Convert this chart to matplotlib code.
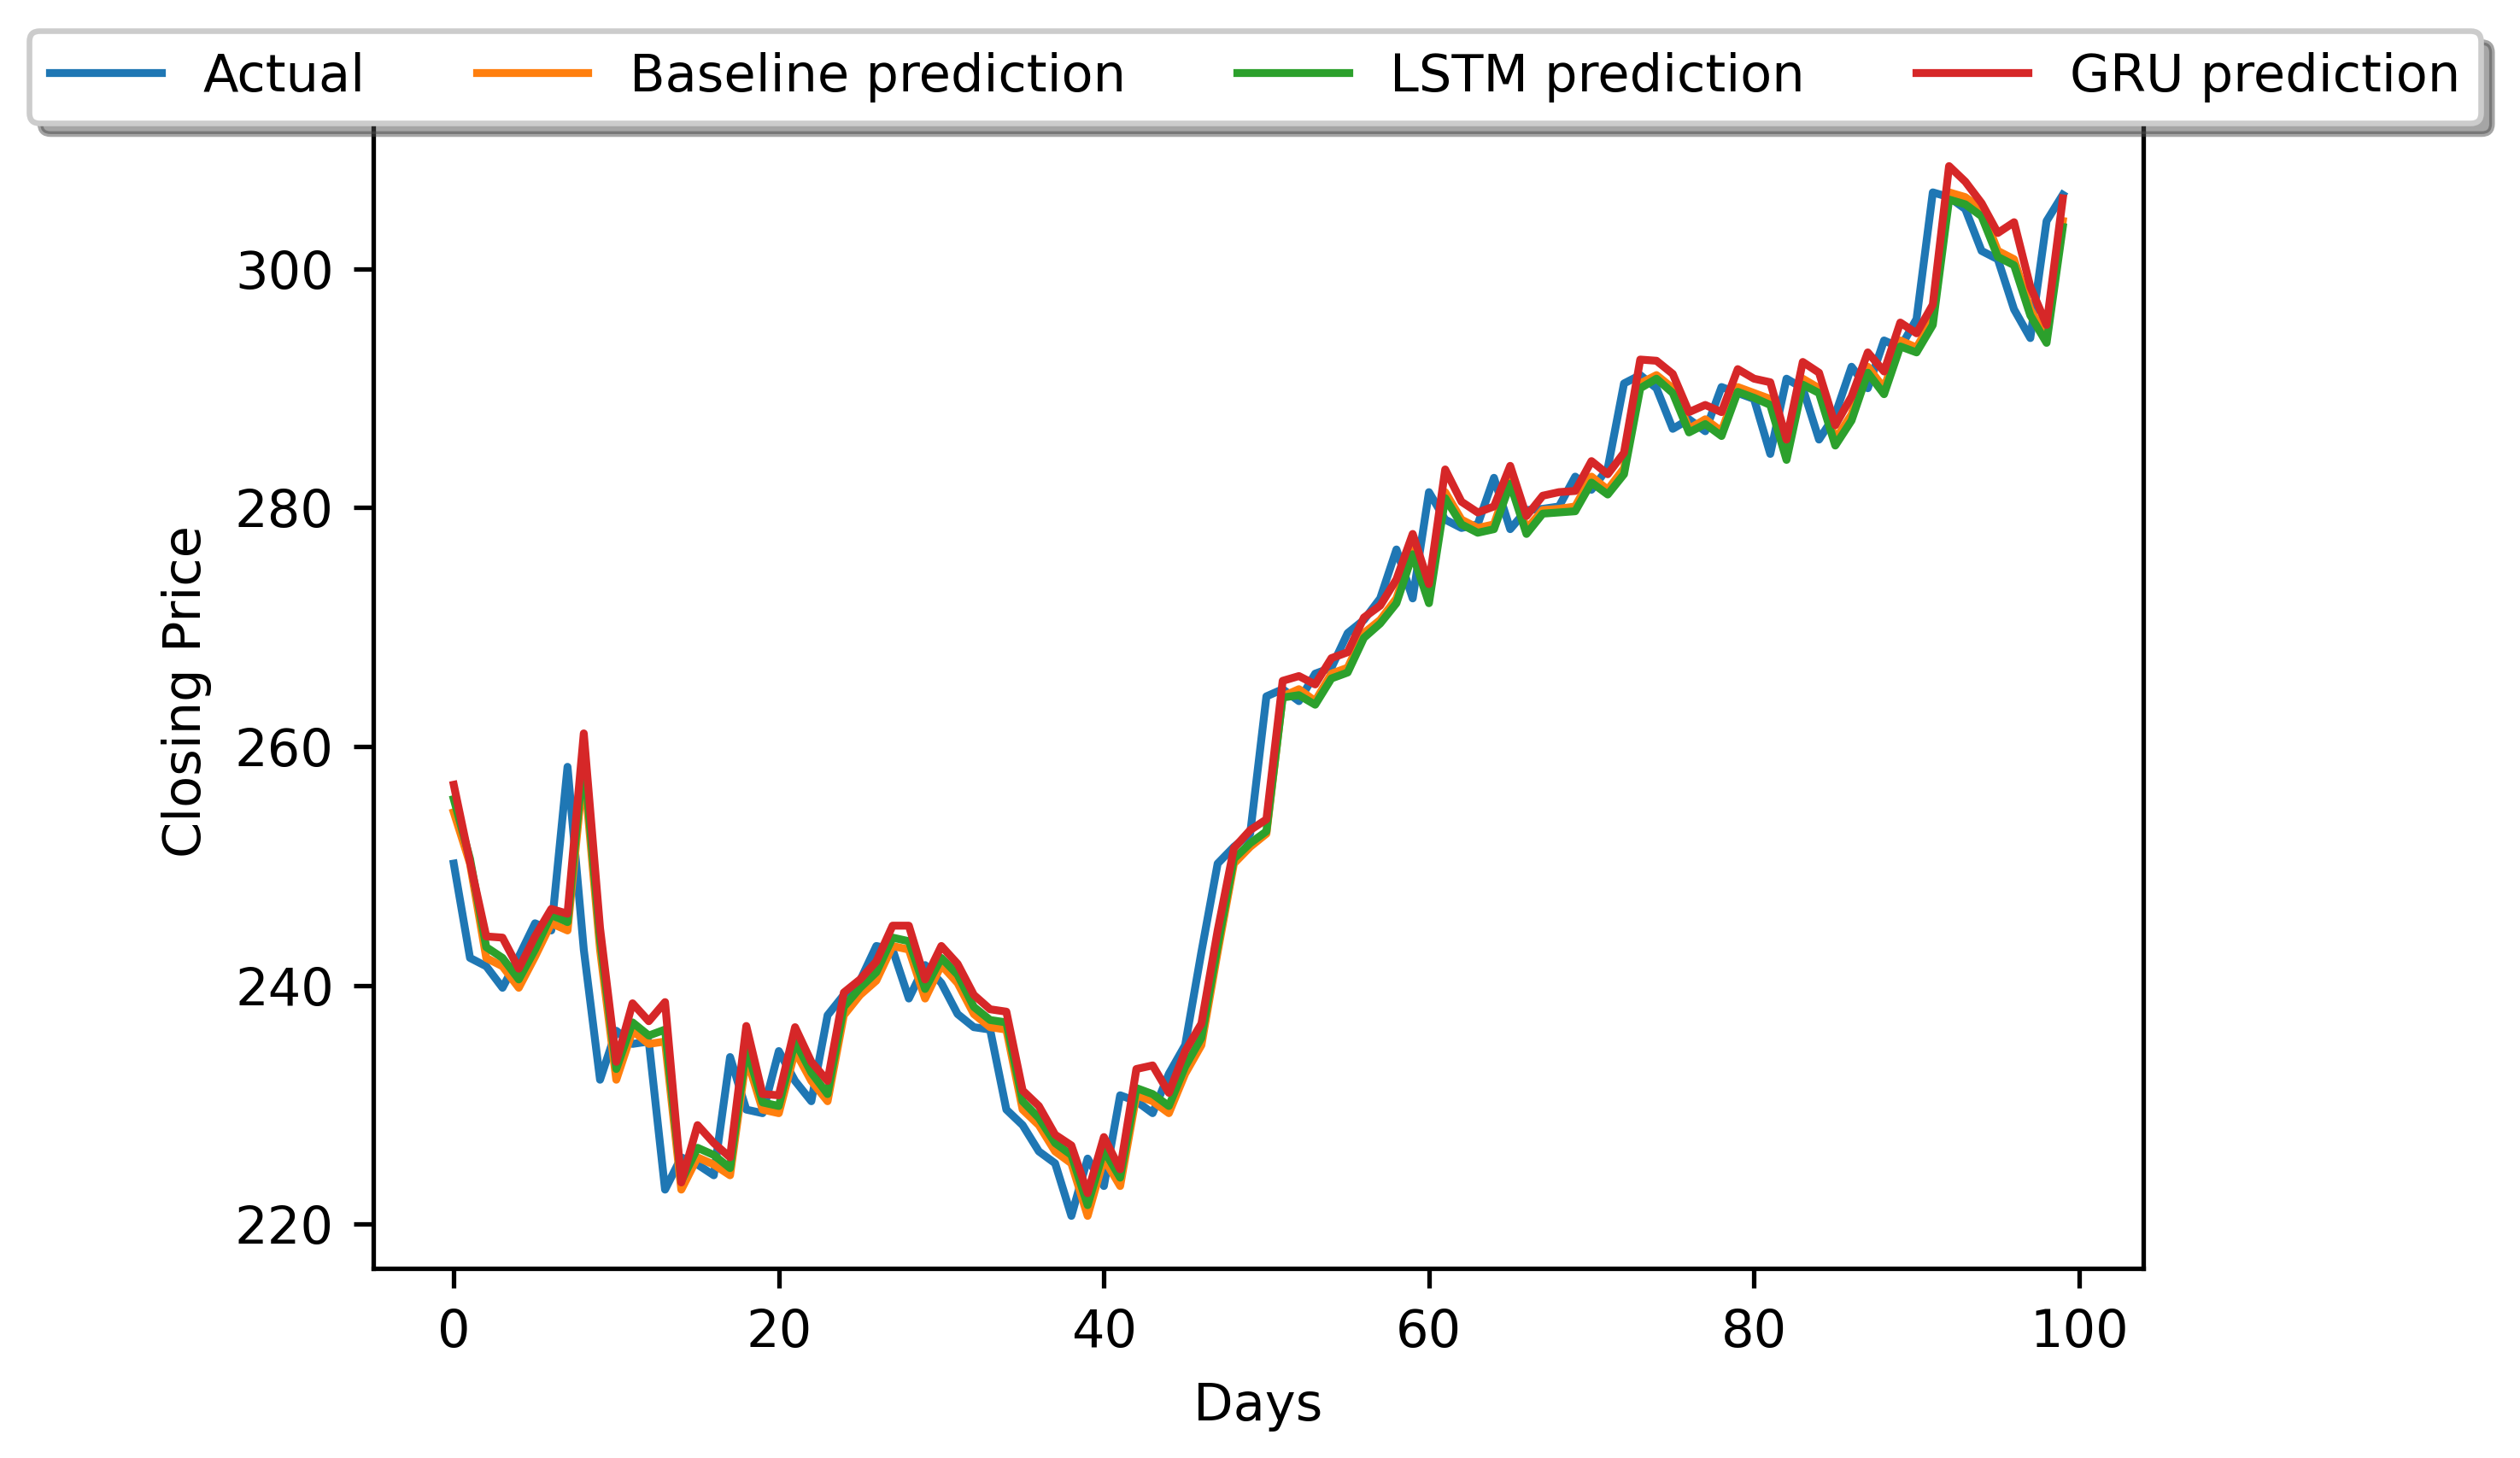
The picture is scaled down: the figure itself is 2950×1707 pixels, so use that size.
import matplotlib

matplotlib.use("Agg")

import matplotlib.pyplot as plt
import numpy as np


# Values (closing price per day)
days = np.arange(100)

actual = [
    250.2, 242.3, 241.6, 239.8, 242.4, 245.2, 244.6, 258.3, 243.0, 232.1,
    236.2, 235.1, 235.3, 222.9, 225.6, 225.0, 224.1, 234.0, 229.6, 229.3,
    234.5, 232.0, 230.3, 237.5, 239.2, 240.4, 243.3, 243.0, 238.9, 241.7,
    240.2, 237.6, 236.5, 236.3, 229.6, 228.3, 226.1, 225.1, 220.7, 225.5,
    223.2, 230.8, 230.3, 229.3, 232.6, 235.0, 242.8, 250.2, 251.6, 252.7,
    264.2, 264.8, 263.8, 266.1, 266.6, 269.5, 270.6, 272.4, 276.5, 272.4,
    281.3, 279.0, 278.3, 278.6, 282.5, 278.2, 279.8, 279.9, 280.1, 282.6,
    281.5, 283.3, 290.4, 291.1, 290.0, 286.6, 287.4, 286.4, 290.1, 289.6,
    289.1, 284.5, 290.8, 290.0, 285.7, 287.8, 291.8, 290.0, 294.0, 293.4,
    295.8, 306.4, 306.0, 305.0, 301.5, 300.8, 296.6, 294.2, 304.0, 306.2,
]

baseline = [
    254.5, 250.2, 242.3, 241.6, 239.8, 242.4, 245.2, 244.6, 258.3, 243.0,
    232.1, 236.2, 235.1, 235.3, 222.9, 225.6, 225.0, 224.1, 234.0, 229.6,
    229.3, 234.5, 232.0, 230.3, 237.5, 239.2, 240.4, 243.3, 243.0, 238.9,
    241.7, 240.2, 237.6, 236.5, 236.3, 229.6, 228.3, 226.1, 225.1, 220.7,
    225.5, 223.2, 230.8, 230.3, 229.3, 232.6, 235.0, 242.8, 250.2, 251.6,
    252.7, 264.2, 264.8, 263.8, 266.1, 266.6, 269.5, 270.6, 272.4, 276.5,
    272.4, 281.3, 279.0, 278.3, 278.6, 282.5, 278.2, 279.8, 279.9, 280.1,
    282.6, 281.5, 283.3, 290.4, 291.1, 290.0, 286.6, 287.4, 286.4, 290.1,
    289.6, 289.1, 284.5, 290.8, 290.0, 285.7, 287.8, 291.8, 290.0, 294.0,
    293.4, 295.8, 306.4, 306.0, 305.0, 301.5, 300.8, 296.6, 294.2, 304.0,
]

lstm = [
    255.6, 250.6, 243.2, 242.3, 240.5, 243.0, 245.9, 245.3, 259.2, 243.9,
    233.0, 236.9, 235.8, 236.3, 223.6, 226.4, 225.8, 224.7, 234.8, 230.2,
    229.9, 235.3, 232.7, 230.9, 238.2, 239.8, 241.1, 244.0, 243.7, 239.7,
    242.3, 240.9, 238.2, 237.1, 236.9, 230.3, 228.9, 226.8, 225.8, 221.6,
    226.2, 223.9, 231.4, 230.9, 229.9, 233.2, 235.6, 243.3, 250.6, 251.9,
    252.9, 264.1, 264.3, 263.5, 265.7, 266.2, 269.1, 270.3, 272.0, 276.1,
    272.0, 280.8, 278.6, 277.9, 278.2, 282.0, 277.8, 279.5, 279.6, 279.7,
    282.1, 281.1, 282.8, 290.0, 290.8, 289.6, 286.3, 287.0, 286.0, 289.7,
    289.2, 288.6, 284.0, 290.3, 289.6, 285.2, 287.3, 291.3, 289.5, 293.5,
    293.0, 295.3, 305.8, 305.4, 304.4, 301.0, 300.3, 296.1, 293.8, 303.5,
]

gru = [
    256.8, 250.3, 244.1, 244.0, 241.4, 244.1, 246.4, 246.0, 261.1, 244.8,
    233.6, 238.5, 237.0, 238.6, 223.5, 228.3, 226.8, 225.6, 236.6, 230.9,
    230.8, 236.5, 233.6, 232.0, 239.4, 240.5, 242.0, 245.0, 245.0, 240.5,
    243.3, 241.8, 239.2, 238.0, 237.8, 231.2, 229.9, 227.5, 226.6, 222.6,
    227.3, 224.6, 233.0, 233.3, 231.0, 234.5, 236.8, 244.6, 251.5, 253.0,
    253.9, 265.5, 265.9, 265.2, 267.4, 267.9, 270.8, 271.8, 274.0, 277.8,
    273.6, 283.2, 280.5, 279.6, 280.1, 283.5, 279.3, 281.0, 281.3, 281.4,
    283.9, 282.8, 284.6, 292.4, 292.3, 291.2, 288.0, 288.6, 288.0, 291.6,
    290.8, 290.5, 285.7, 292.2, 291.3, 286.9, 289.3, 293.0, 291.4, 295.5,
    294.6, 297.0, 308.6, 307.3, 305.5, 303.0, 303.9, 298.5, 295.3, 305.9,
]

series = [
    ("Actual", actual),
    ("Baseline prediction", baseline),
    ("LSTM prediction", lstm),
    ("GRU prediction", gru),
]

# Figure geometry in pixels of the 2950 x 1707 output
dpi = 475
width_px, height_px = 2950, 1707
font_size = 9.2

figure = plt.figure(figsize=(width_px / dpi, height_px / dpi), dpi=dpi)
axis = figure.add_axes(
    [
        437 / width_px,
        1 - 1485 / height_px,
        (2509 - 437) / width_px,
        (1485 - 133) / height_px,
    ]
)

for label, values in series:
    axis.plot(days, values, linewidth=1.4, label=label)

axis.set_xlabel("Days", fontsize=font_size)
axis.set_ylabel("Closing Price", fontsize=font_size)
axis.tick_params(labelsize=font_size)

axis.legend(
    loc="center",
    bbox_to_anchor=(1469 / width_px, 1 - 90 / height_px),
    bbox_transform=figure.transFigure,
    ncol=4,
    fontsize=font_size,
    handlelength=2.15,
    columnspacing=2.15,
    shadow=True,
)

figure.savefig("out.png", dpi=dpi)
